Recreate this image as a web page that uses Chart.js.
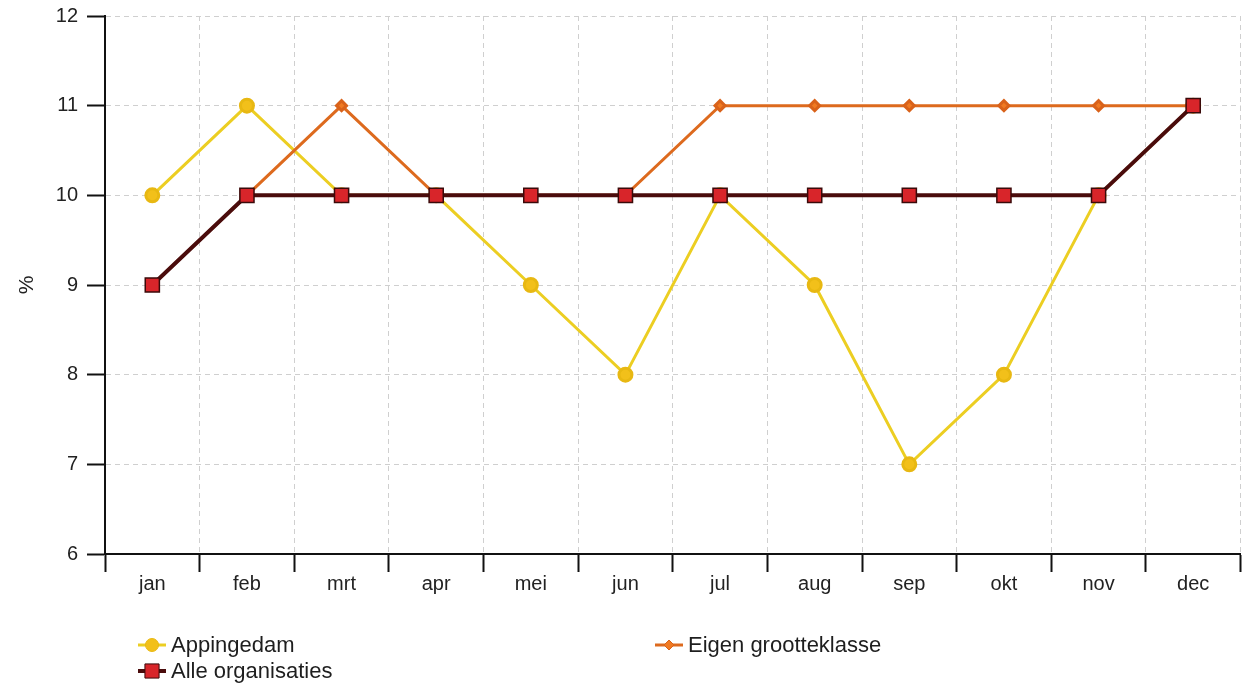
<!DOCTYPE html>
<html>
<head>
<meta charset="utf-8">
<script src="https://cdn.jsdelivr.net/npm/chart.js@4"></script>
<style>
  html, body { margin: 0; padding: 0; background: #fff; }
  #wrap { width: 1252px; height: 687px; position: relative; }
</style>
</head>
<body>
<div id="wrap"><canvas id="plot"></canvas></div>
<script>
// maanden en waarden per reeks
const maanden = ['jan', 'feb', 'mrt', 'apr', 'mei', 'jun', 'jul', 'aug', 'sep', 'okt', 'nov', 'dec']
const appingedam = [10, 11, 10, 10, 9, 8, 10, 9, 7, 8, 10, 11]
const eigenGrootteklasse = [9, 10, 11, 10, 10, 10, 11, 11, 11, 11, 11, 11]
const alleOrganisaties = [9, 10, 10, 10, 10, 10, 10, 10, 10, 10, 10, 11]
const yTicks = [6, 7, 8, 9, 10, 11, 12]

const FONT = '"Liberation Sans", Arial, sans-serif'

// legenda onderaan, twee kolommen zoals in het origineel
const legendPos = [
    {x: 138, y: 645},
    {x: 655, y: 645},
    {x: 138, y: 671}
]

const bottomLegend = {
    id: 'bottomLegend',
    afterDraw(chart) {
        const ctx = chart.ctx
        chart.data.datasets.forEach((ds, i) => {
            const p = legendPos[i]
            const cx = p.x + 14
            ctx.save()
            ctx.strokeStyle = ds.borderColor
            ctx.lineWidth = ds.borderWidth
            ctx.beginPath()
            ctx.moveTo(p.x, p.y)
            ctx.lineTo(p.x + 28, p.y)
            ctx.stroke()
            ctx.fillStyle = ds.pointBackgroundColor
            ctx.strokeStyle = ds.pointBorderColor
            ctx.lineWidth = 1
            const r = ds.pointRadius
            ctx.beginPath()
            if (ds.pointStyle === 'circle') {
                ctx.arc(cx, p.y, r, 0, Math.PI * 2)
            } else if (ds.pointStyle === 'rectRot') {
                ctx.moveTo(cx, p.y - r); ctx.lineTo(cx + r, p.y)
                ctx.lineTo(cx, p.y + r); ctx.lineTo(cx - r, p.y)
                ctx.closePath()
            } else {
                const s = r * Math.SQRT1_2
                ctx.rect(cx - s, p.y - s, 2 * s, 2 * s)
            }
            ctx.fill()
            ctx.stroke()
            ctx.fillStyle = '#1e1e1e'
            ctx.font = '22px ' + FONT
            ctx.textBaseline = 'middle'
            ctx.fillText(ds.label, p.x + 33, p.y + 1)
            ctx.restore()
        })
    }
}

const config = {
    type: 'line',
    data: {
        labels: maanden,
        datasets: [
            {
                label: 'Appingedam',
                data: appingedam,
                borderColor: '#ecce22',
                borderWidth: 3,
                pointStyle: 'circle',
                pointRadius: 6.5,
                pointBackgroundColor: '#f2c01a',
                pointBorderColor: '#e8b812',
                order: 3
            },
            {
                label: 'Eigen grootteklasse',
                data: eigenGrootteklasse,
                borderColor: '#dd6a1e',
                borderWidth: 3,
                pointStyle: 'rectRot',
                pointRadius: 5,
                pointBackgroundColor: '#f07a22',
                pointBorderColor: '#d9621a',
                order: 2
            },
            {
                label: 'Alle organisaties',
                data: alleOrganisaties,
                borderColor: '#4a0c0c',
                borderWidth: 4,
                pointStyle: 'rect',
                pointRadius: 10,
                pointBackgroundColor: '#d8252a',
                pointBorderColor: '#3a0a0a',
                pointBorderWidth: 1.5,
                order: 1
            }
        ]
    },
    options: {
        responsive: false,
        animation: false,
        layout: {padding: {left: 0, right: 7, top: 16, bottom: 0}},
        plugins: {
            legend: {display: false},
            tooltip: {enabled: false}
        },
        scales: {
            x: {
                offset: true,
                grid: {
                    offset: true,
                    color: '#cfcfcf',
                    lineWidth: 1,
                    tickLength: 18,
                    tickColor: '#111',
                    tickWidth: 2
                },
                border: {color: '#111', width: 2, dash: [5, 4]},
                ticks: {color: '#222', font: {family: FONT, size: 20}, padding: 0},
                afterFit(scale) { scale.height = 133 }
            },
            y: {
                min: 6,
                max: 12,
                afterBuildTicks(scale) { scale.ticks = yTicks.map(v => ({value: v})) },
                grid: {
                    color: '#cfcfcf',
                    lineWidth: 1,
                    tickLength: 18,
                    tickColor: '#111',
                    tickWidth: 2
                },
                border: {color: '#111', width: 2, dash: [5, 4]},
                ticks: {color: '#222', font: {family: FONT, size: 20}, padding: 9},
                title: {
                    display: true,
                    text: '%',
                    color: '#222',
                    font: {family: FONT, size: 21},
                    padding: {top: 15, bottom: 0}
                },
                afterFit(scale) {
                    scale.width = 105
                    scale.paddingTop = 0
                    scale.paddingBottom = 0
                }
            }
        }
    },
    plugins: [bottomLegend]
}

const canvas = document.getElementById('plot')
canvas.width = 1252
canvas.height = 687
const chart = new Chart(canvas, config)
</script>
</body>
</html>
